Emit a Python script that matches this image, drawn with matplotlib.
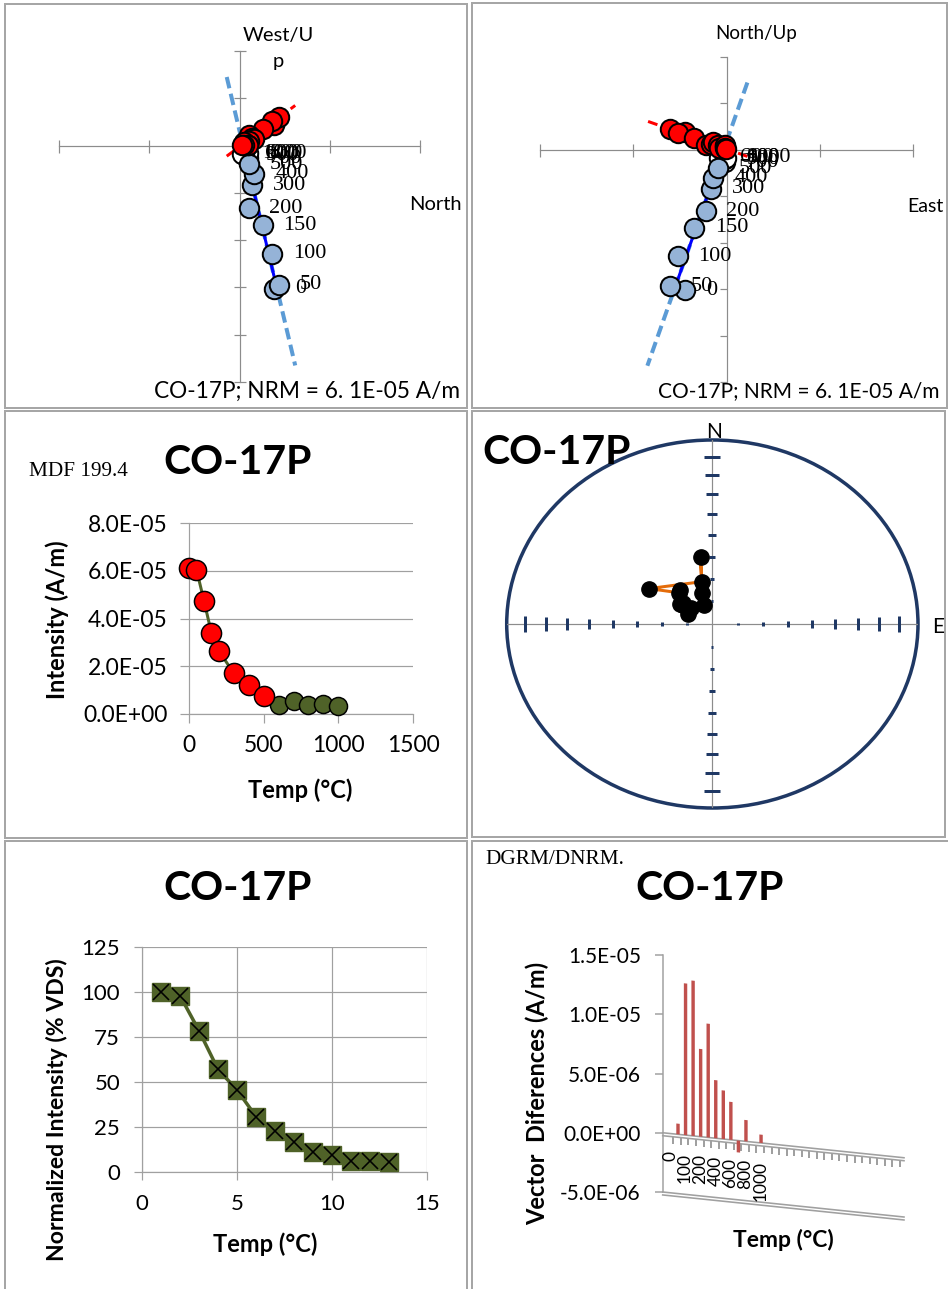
import numpy as np
import matplotlib
matplotlib.use("Agg")
import matplotlib.pyplot as plt
import matplotlib.transforms as mtransforms
from matplotlib.patches import Rectangle, Ellipse

W, H = 948, 1289
SANS = "Lato"
SERIF = "Liberation Serif"
plt.rcParams["font.family"] = [SANS, "DejaVu Sans"]

SAMPLE = "CO-17P"
NRM_TEXT = "CO-17P; NRM = 6. 1E-05 A/m"

# thermal demagnetisation steps (°C)
temps = [0, 50, 100, 150, 200, 300, 400, 500, 600, 700, 800, 900, 1000]
# remanence components per step, units of 1e-5 A/m
north = [0.76, 0.88, 0.73, 0.51, 0.20, 0.27, 0.33, 0.20, 0.10, 0.18, 0.19, 0.10, 0.05]
east = [-0.88, -1.22, -1.05, -0.69, -0.45, -0.34, -0.28, -0.19, -0.16, -0.04, -0.03, -0.03, -0.02]
up = [-6.05, -5.88, -4.58, -3.36, -2.65, -1.67, -1.20, -0.80, -0.33, -0.53, -0.33, -0.41, -0.34]
n_fit = 8  # 0-500 °C steps used for the principal component

# intensity decay (A/m)
intensity = [6.1e-5, 6.05e-5, 4.75e-5, 3.4e-5, 2.65e-5, 1.7e-5, 1.21e-5,
             0.75e-5, 0.38e-5, 0.56e-5, 0.38e-5, 0.42e-5, 0.34e-5]

# normalised vector difference sum
step_no = [1, 2, 3, 4, 5, 6, 7, 8, 9, 10, 11, 12, 13]
norm_vds = [100, 98, 78.5, 57, 45.6, 30.8, 22.9, 16.4, 10.9, 9.6, 5.9, 5.9, 5.4]

# vector differences between successive steps (A/m)
vdiff = [0.9e-6, 1.28e-5, 1.31e-5, 0.74e-5, 0.96e-5, 0.49e-5, 0.41e-5,
         0.32e-5, -0.10e-5, 0.18e-5, 0.0, 0.07e-5, 0.0]
vdiff_labels = ["0", "", "100", "", "200", "", "400", "", "600", "", "800", "", "1000"]
n_slots = 31

GRAY = "#A0A0A0"
OLIVE = "#4F6228"
NAVY = "#1F3864"
LBLUE = "#5B9BD5"
PX = 72 / 100  # points per pixel at 100 dpi

fig = plt.figure(figsize=(W / 100, H / 100), dpi=100)
fig.patch.set_facecolor("white")


def fx(px):
    return px / W


def fy(py):
    return 1 - py / H


def axes_px(x0, y0, x1, y1):
    return fig.add_axes([fx(x0), fy(y1), (x1 - x0) / W, (y1 - y0) / H])


def text_px(x, y, s, **kw):
    kw.setdefault("ha", "center")
    kw.setdefault("va", "center")
    return fig.text(fx(x), fy(y), s, **kw)


# panel frames
for (x0, y0, x1, y1) in [(5, 4, 467, 408), (472, 3, 947, 408), (5, 411, 467, 838),
                         (472, 411, 945, 837), (5, 841, 467, 1295), (472, 841, 952, 1295)]:
    fig.add_artist(Rectangle((fx(x0), fy(y1)), (x1 - x0) / W, (y1 - y0) / H,
                             transform=fig.transFigure, fill=False,
                             ec="#A6A6A6", lw=2 * PX))

N = np.array(north)
E = np.array(east)
U = np.array(up)

# principal component through the fitted steps
comp = np.column_stack([N, E, U])[:n_fit]
mean = comp.mean(axis=0)
_, _, vt = np.linalg.svd(comp - mean)
d = vt[0]
t_ext = (np.array([2.9, -9.3]) - mean[2]) / d[2]
ext = mean + np.outer(t_ext, d)
t_seg = (np.array([U[n_fit - 1], U[0]]) - mean[2]) / d[2]
seg = mean + np.outer(t_seg, d)


def zijderveld(ax, hx, hy, vx, vy, hline, vline, seg_v, ytick_dir):
    ax.set_xlim(-4, 4)
    ax.set_ylim(-10, 4)
    for s in ("top", "right"):
        ax.spines[s].set_visible(False)
    ax.spines["left"].set_position(("data", 0))
    ax.spines["bottom"].set_position(("data", 0))
    for s in ("left", "bottom"):
        ax.spines[s].set_color("#8C8C8C")
        ax.spines[s].set_linewidth(1.2 * PX)
    ax.set_xticks(np.arange(-4, 5, 2))
    ax.set_yticks(np.arange(-10, 5, 2))
    ax.tick_params(axis="x", direction="inout", length=13 * PX, color="#8C8C8C",
                   width=1.2 * PX, labelbottom=False)
    ax.tick_params(axis="y", direction=ytick_dir, length=(12 if ytick_dir == "inout" else 7) * PX,
                   color="#8C8C8C", width=1.2 * PX, labelleft=False)
    ax.patch.set_alpha(0)
    ax.plot(hline[0], hline[1], color="red", lw=3 * PX, dashes=(3.3, 2.0), zorder=2, clip_on=False)
    ax.plot(vline[0], vline[1], color=LBLUE, lw=4 * PX, dashes=(2.9, 1.4), zorder=2, clip_on=False)
    ax.plot(seg_v[0], seg_v[1], color="#0000FF", lw=3 * PX, zorder=2)
    for i, t in enumerate(temps):
        ax.annotate(str(t), (vx[i], vy[i]), xytext=(15, 0), textcoords="offset points",
                    ha="left", va="center", fontsize=16, family=SERIF, zorder=3)
    filled = np.arange(len(temps)) < n_fit
    ax.plot(vx[~filled], vy[~filled], "o", ms=14, mfc="white", mec="black",
            mew=2 * PX, ls="none", zorder=4, clip_on=False)
    ax.plot(vx[filled], vy[filled], "o", ms=14, mfc="#95B3D7", mec="black",
            mew=2 * PX, ls="none", zorder=5, clip_on=False)
    ax.plot(hx, hy, "o", ms=14, mfc="#FF0000", mec="black", mew=2 * PX,
            ls="none", zorder=6, clip_on=False)


# Zijderveld, North vs West/Up
ax1 = axes_px(59, 51, 420, 382)
zijderveld(ax1, N, -E, N, U,
           (ext[:, 0], -ext[:, 1]), (ext[:, 0], ext[:, 2]),
           (seg[:, 0], seg[:, 2]), "inout")
text_px(278, 35, "West/U", fontsize=14.5)
text_px(278, 62, "p", fontsize=14.5)
text_px(435, 204, "North", fontsize=14.5)
text_px(460, 391, NRM_TEXT, ha="right", fontsize=16.3)

# Zijderveld, East vs North/Up
ax2 = axes_px(540, 57, 913, 382)
zijderveld(ax2, E, N, E, U,
           (ext[:, 1], ext[:, 0]), (ext[:, 1], ext[:, 2]),
           (seg[:, 1], seg[:, 2]), "out")
text_px(756, 33, "North/Up", fontsize=13.5)
text_px(925, 206, "East", fontsize=14)
text_px(940, 391, NRM_TEXT, ha="right", fontsize=15)

# intensity decay
ax3 = axes_px(189, 523, 413, 714)
ax3.set_xlim(0, 1500)
ax3.set_ylim(0, 8e-5)
ax3.set_xticks([0, 500, 1000, 1500])
ax3.set_yticks(np.arange(0, 8.01e-5, 2e-5))
ax3.set_yticklabels(["{:.1E}".format(v) for v in ax3.get_yticks()])
ax3.grid(axis="y", color=GRAY, lw=1.2 * PX)
ax3.set_axisbelow(True)
for s in ("top", "right"):
    ax3.spines[s].set_visible(False)
for s in ("left", "bottom"):
    ax3.spines[s].set_color(GRAY)
    ax3.spines[s].set_linewidth(1.2 * PX)
ax3.tick_params(direction="out", length=9 * PX, color=GRAY, width=1.2 * PX,
                labelsize=16.5, pad=9)
ax3.plot(temps, intensity, color=OLIVE, lw=3 * PX, zorder=2)
ax3.plot(temps[n_fit:], intensity[n_fit:], "o", ms=13, mfc=OLIVE, mec="black",
         mew=1.5 * PX, zorder=3, clip_on=False)
ax3.plot(temps[:n_fit], intensity[:n_fit], "o", ms=14.5, mfc="#FF0000", mec="black",
         mew=1.5 * PX, zorder=4, clip_on=False)
text_px(57, 620, "Intensity (A/m)", rotation=90, fontsize=17, fontweight="bold")
text_px(300, 790, "Temp (°C)", fontsize=17, fontweight="bold")
text_px(238, 462, SAMPLE, fontsize=29.5, fontweight="bold")
text_px(29, 472, "MDF 199.4", ha="left", fontsize=15.3, family=SERIF)

# equal-area stereonet
ax4 = axes_px(506.7, 440, 918, 808)
ax4.set_xlim(-1, 1)
ax4.set_ylim(-1, 1)
ax4.axis("off")
ax4.add_patch(Ellipse((0, 0), 2, 2, fill=False, ec=NAVY, lw=3.5 * PX, clip_on=False, zorder=1))
ax4.plot([-1, 1], [0, 0], color="#8C8C8C", lw=1.2 * PX, zorder=1)
ax4.plot([0, 0], [-1, 1], color="#8C8C8C", lw=1.2 * PX, zorder=1)
net_inc = np.arange(10, 90, 10)
net_r = np.sqrt(2) * np.sin(np.radians(90 - net_inc) / 2)
for r in net_r:
    L = (2 + 16 * r ** 1.5) * PX
    for sgn in (-1, 1):
        ax4.plot(sgn * r, 0, marker="|", ms=L, mew=3 * PX, color=NAVY, zorder=2)
        ax4.plot(0, sgn * r, marker="_", ms=L * 1.05, mew=3 * PX, color=NAVY, zorder=2)
dec = np.degrees(np.arctan2(E, N))
inc = np.degrees(np.arctan2(-U, np.hypot(N, E)))
rr = np.sqrt(2) * np.sin(np.radians(90 - np.abs(inc)) / 2)
sx = rr * np.sin(np.radians(dec))
sy = rr * np.cos(np.radians(dec))
ax4.plot(sx, sy, color="#E46C0A", lw=3 * PX, zorder=3)
ax4.plot(sx, sy, "o", ms=11, mfc="black", mec="black", ls="none", zorder=4)
text_px(714, 432, "N", fontsize=15)
text_px(938, 627, "E", fontsize=15)
text_px(557, 453, SAMPLE, fontsize=29.5, fontweight="bold", zorder=5)

# normalised intensity
ax5 = axes_px(142, 947, 427, 1172)
ax5.set_xlim(0, 15)
ax5.set_ylim(0, 125)
ax5.set_xticks([0, 5, 10, 15])
ax5.set_yticks(np.arange(0, 126, 25))
ax5.grid(color=GRAY, lw=1.2 * PX)
ax5.set_axisbelow(True)
for s in ("top", "right"):
    ax5.spines[s].set_visible(False)
for s in ("left", "bottom"):
    ax5.spines[s].set_color(GRAY)
    ax5.spines[s].set_linewidth(1.2 * PX)
ax5.tick_params(direction="out", length=8 * PX, color=GRAY, width=1.2 * PX,
                labelsize=16, pad=10)
ax5.plot(step_no, norm_vds, color=OLIVE, lw=3.5 * PX, zorder=2)
ax5.plot(step_no, norm_vds, "s", ms=12.5, mfc=OLIVE, mec=OLIVE, zorder=3, clip_on=False)
ax5.plot(step_no, norm_vds, "x", ms=11.5, mec="black", mew=1.6 * PX, zorder=4, clip_on=False)
text_px(57, 1110, "Normalized Intensity (% VDS)", rotation=90, fontsize=16.6, fontweight="bold")
text_px(265, 1244, "Temp (°C)", fontsize=17, fontweight="bold")
text_px(238, 888, SAMPLE, fontsize=29.5, fontweight="bold")

# vector differences, drawn on a sheared floor
CAT = 7.55
c0 = (662.7 - 670) / CAT
c1 = c0 + (904 - 662.7) / CAT
ax6 = axes_px(662.7, 955, 904, 1192)
ax6.set_xlim(c0, c1)
ax6.set_ylim(-5e-6, 1.5e-5)
k = -(0.785 / 118.9) * 1e-5
shear = mtransforms.Affine2D(np.array([[1, 0, 0], [k, 1, -k * c0], [0, 0, 1]])) + ax6.transData
for s in ("top", "right", "bottom"):
    ax6.spines[s].set_visible(False)
ax6.spines["left"].set_color(GRAY)
ax6.spines["left"].set_linewidth(1.5 * PX)
ax6.set_xticks([])
ax6.set_yticks(np.arange(-5e-6, 1.51e-5, 5e-6))
ax6.set_yticklabels(["{:.1E}".format(v) for v in ax6.get_yticks()])
ax6.tick_params(axis="y", direction="out", length=8 * PX, color=GRAY, width=1.5 * PX,
                labelsize=15, pad=10)
ax6.patch.set_alpha(0)
for base in (0.0, -5e-6):
    for off in (0.0, -2.5e-7):
        ax6.plot([c0, c1], [base + off, base + off], color=GRAY, lw=1.6 * PX,
                 transform=shear, clip_on=False)
slots = np.arange(n_slots) + 0.45
ax6.vlines(slots, -2.5e-7, -8.5e-7, color=GRAY, lw=2 * PX, transform=shear, clip_on=False)
cats = np.arange(len(vdiff))
ax6.bar(cats + 1.06, vdiff, width=0.45, color="#C0504D", transform=shear, zorder=3,
        clip_on=False)
for c, lab in zip(cats, vdiff_labels):
    if lab:
        ax6.text(c, -1.5e-6, lab, rotation=90, ha="center", va="top", fontsize=12.5,
                 transform=shear, clip_on=False)
text_px(537, 1093, "Vector  Diferences (A/m)", rotation=90, fontsize=17, fontweight="bold")
text_px(783, 1240, "Temp (°C)", fontsize=16.5, fontweight="bold")
text_px(710, 888, SAMPLE, fontsize=29.5, fontweight="bold")
text_px(485, 860, "DGRM/DNRM.", ha="left", fontsize=15.3, family=SERIF)

fig.savefig("out.png", dpi=100)
